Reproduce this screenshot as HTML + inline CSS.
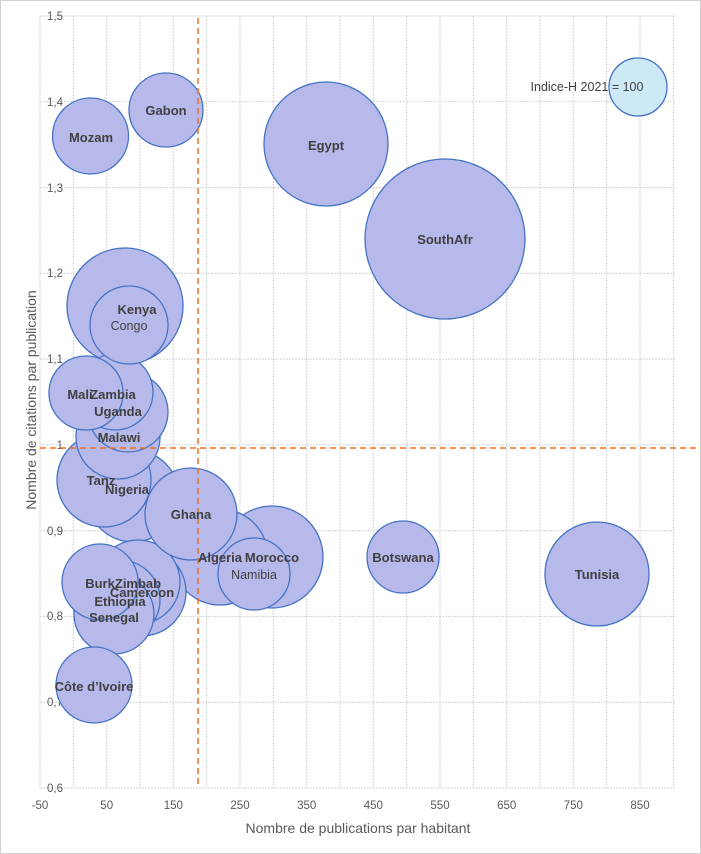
<!DOCTYPE html>
<html><head><meta charset="utf-8"><style>
html,body{margin:0;padding:0;background:#fff}
svg{display:block;font-family:"Liberation Sans",sans-serif}
</style></head><body>
<svg width="701" height="854" viewBox="0 0 701 854" xmlns="http://www.w3.org/2000/svg">
<rect x="0.5" y="0.5" width="700" height="853" fill="#fff" stroke="#d0d0d0"/>
<g stroke="#d4d4d4" stroke-width="1" stroke-dasharray="2,1">
<line x1="40" y1="16" x2="40" y2="788"/>
<line x1="73.3" y1="16" x2="73.3" y2="788"/>
<line x1="106.7" y1="16" x2="106.7" y2="788"/>
<line x1="140" y1="16" x2="140" y2="788"/>
<line x1="173.3" y1="16" x2="173.3" y2="788"/>
<line x1="206.7" y1="16" x2="206.7" y2="788"/>
<line x1="240" y1="16" x2="240" y2="788"/>
<line x1="273.3" y1="16" x2="273.3" y2="788"/>
<line x1="306.7" y1="16" x2="306.7" y2="788"/>
<line x1="340" y1="16" x2="340" y2="788"/>
<line x1="373.3" y1="16" x2="373.3" y2="788"/>
<line x1="406.7" y1="16" x2="406.7" y2="788"/>
<line x1="440" y1="16" x2="440" y2="788"/>
<line x1="473.3" y1="16" x2="473.3" y2="788"/>
<line x1="506.7" y1="16" x2="506.7" y2="788"/>
<line x1="540" y1="16" x2="540" y2="788"/>
<line x1="573.3" y1="16" x2="573.3" y2="788"/>
<line x1="606.7" y1="16" x2="606.7" y2="788"/>
<line x1="640" y1="16" x2="640" y2="788"/>
<line x1="673.3" y1="16" x2="673.3" y2="788"/>
<line x1="40" y1="16" x2="675" y2="16"/>
<line x1="40" y1="101.8" x2="675" y2="101.8"/>
<line x1="40" y1="187.6" x2="675" y2="187.6"/>
<line x1="40" y1="273.3" x2="675" y2="273.3"/>
<line x1="40" y1="359.1" x2="675" y2="359.1"/>
<line x1="40" y1="444.9" x2="675" y2="444.9"/>
<line x1="40" y1="530.7" x2="675" y2="530.7"/>
<line x1="40" y1="616.4" x2="675" y2="616.4"/>
<line x1="40" y1="702.2" x2="675" y2="702.2"/>
<line x1="40" y1="788" x2="675" y2="788"/>
</g>
<g font-size="11.5" fill="#595959" text-anchor="end">
<text x="63" y="20">1,5</text><text x="63" y="106">1,4</text><text x="63" y="192">1,3</text>
<text x="63" y="277">1,2</text><text x="63" y="363">1,1</text><text x="63" y="449">1</text>
<text x="63" y="535">0,9</text><text x="63" y="620">0,8</text><text x="63" y="706">0,7</text>
<text x="63" y="792">0,6</text>
</g>
<g font-size="11.5" fill="#595959" text-anchor="middle">
<text x="40" y="809">-50</text><text x="106.7" y="809">50</text><text x="173.3" y="809">150</text>
<text x="240" y="809">250</text><text x="306.7" y="809">350</text><text x="373.3" y="809">450</text>
<text x="440" y="809">550</text><text x="506.7" y="809">650</text><text x="573.3" y="809">750</text>
<text x="640" y="809">850</text>
</g>
<text x="358" y="833" font-size="14" fill="#595959" text-anchor="middle">Nombre de publications par habitant</text>
<text transform="translate(36,400) rotate(-90)" font-size="14" fill="#595959" text-anchor="middle">Nombre de citations par publication</text>
<g fill="#b6b9ea" stroke="#4472c4" stroke-width="1.3">
<circle cx="445" cy="239" r="80"/>
<circle cx="326" cy="144" r="62"/>
<circle cx="125" cy="306" r="58"/>
<circle cx="597" cy="574" r="52"/>
<circle cx="272" cy="557" r="51"/>
<circle cx="220" cy="557" r="48"/>
<circle cx="133" cy="496" r="46"/>
<circle cx="104" cy="480" r="47"/>
<circle cx="142" cy="592" r="44"/>
<circle cx="138" cy="582" r="42"/>
<circle cx="118" cy="437" r="42"/>
<circle cx="128" cy="412" r="40"/>
<circle cx="115" cy="392" r="38"/>
<circle cx="191" cy="514" r="46"/>
<circle cx="120" cy="600" r="40"/>
<circle cx="114" cy="614" r="40"/>
<circle cx="100" cy="582" r="38"/>
<circle cx="86" cy="393" r="37"/>
<circle cx="94" cy="685" r="38"/>
<circle cx="90.5" cy="136" r="38"/>
<circle cx="166" cy="110" r="37"/>
<circle cx="129" cy="325" r="39"/>
<circle cx="254" cy="574" r="36"/>
<circle cx="403" cy="557" r="36"/>
</g>
<circle cx="638" cy="87" r="29" fill="#cde9f6" stroke="#4472c4" stroke-width="1.3"/>
<g stroke="#f07020" stroke-width="1.5" stroke-dasharray="6,4">
<line x1="198" y1="18" x2="198" y2="788"/>
<line x1="40" y1="448" x2="700" y2="448"/>
</g>
<g font-size="13" font-weight="bold" fill="#404040" text-anchor="middle">
<text x="91" y="142">Mozam</text><text x="166" y="115">Gabon</text>
<text x="326" y="150">Egypt</text><text x="445" y="244">SouthAfr</text>
<text x="137" y="314">Kenya</text>
<text x="80" y="399">Mali</text><text x="113" y="399">Zambia</text>
<text x="118" y="416">Uganda</text><text x="119" y="442">Malawi</text>
<text x="101" y="485">Tanz</text><text x="127" y="494">Nigeria</text>
<text x="191" y="519">Ghana</text><text x="220" y="562">Algeria</text>
<text x="272" y="562">Morocco</text><text x="403" y="562">Botswana</text>
<text x="597" y="579">Tunisia</text>
<text x="100" y="588">Burk</text><text x="138" y="588">Zimbab</text>
<text x="142" y="597">Cameroon</text><text x="120" y="606">Ethiopia</text>
<text x="114" y="622">Senegal</text><text x="94" y="691">Côte d’Ivoire</text>
</g>
<g font-size="12.5" fill="#404040" text-anchor="middle">
<text x="129" y="330">Congo</text><text x="254" y="579">Namibia</text>
<text x="587" y="91">Indice-H 2021 = 100</text>
</g>
</svg>
</body></html>
